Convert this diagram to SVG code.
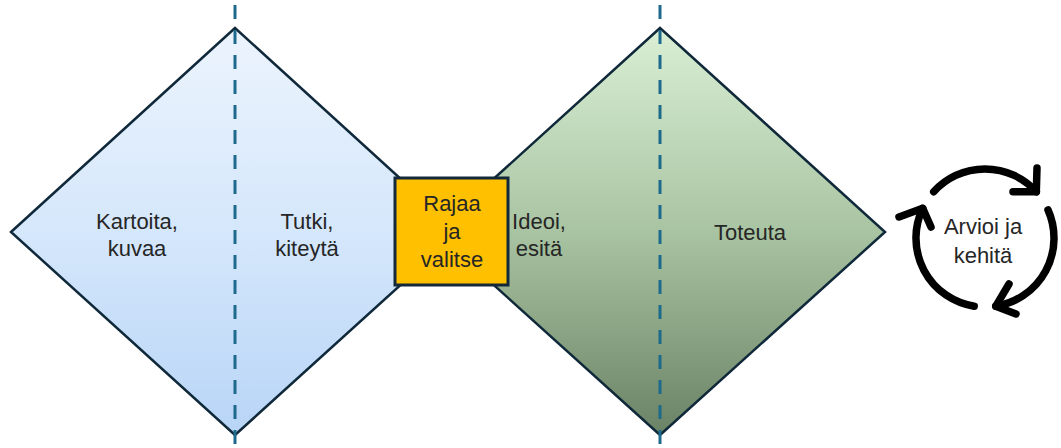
<svg xmlns="http://www.w3.org/2000/svg" width="1061" height="448" viewBox="0 0 1061 448">
  <defs>
    <linearGradient id="gBlue" x1="0" y1="0" x2="0" y2="1">
      <stop offset="0" stop-color="#ecf4fd"/>
      <stop offset="0.5" stop-color="#d5e7fb"/>
      <stop offset="1" stop-color="#b8d5f7"/>
    </linearGradient>
    <linearGradient id="gGreen" x1="0" y1="0" x2="0" y2="1">
      <stop offset="0" stop-color="#daefd5"/>
      <stop offset="0.5" stop-color="#a9c4a2"/>
      <stop offset="1" stop-color="#6a8265"/>
    </linearGradient>
    <style>
      .dia { stroke: #10293a; stroke-width: 2.5; stroke-linejoin: miter; }
      .dash { stroke: #1e6a8c; stroke-width: 3; stroke-dasharray: 14 11; stroke-dashoffset: 20; fill: none; }
      .lbl { font-family: "Liberation Sans", Arial, sans-serif; font-size: 22px; fill: #262626; text-anchor: middle; }
      .cyc { fill: none; stroke: #000; stroke-width: 7.5; stroke-linecap: round; stroke-linejoin: round; }
    </style>
  </defs>

  <g id="diamond-discover">
    <polygon class="dia" fill="url(#gBlue)" points="11,232 235,28 459,232 235,435"/>
  </g>
  <g id="diamond-deliver">
    <polygon class="dia" fill="url(#gGreen)" points="435,232 660,28 885,232 660,435"/>
  </g>

  <g id="connectors">
    <line class="dash" x1="235" y1="0" x2="235" y2="448"/>
    <line class="dash" x1="660" y1="0" x2="660" y2="448"/>
  </g>

  <g id="node-rajaa">
    <rect x="395" y="178" width="113" height="107" fill="#ffc000" stroke="#13293a" stroke-width="3"/>
    <text class="lbl" x="452" y="211">Rajaa</text>
    <text class="lbl" x="452" y="239">ja</text>
    <text class="lbl" x="452" y="267">valitse</text>
  </g>

  <g id="label-kartoita">
    <text class="lbl" x="137" y="229">Kartoita,</text>
    <text class="lbl" x="137" y="256">kuvaa</text>
  </g>
  <g id="label-tutki">
    <text class="lbl" x="307" y="229">Tutki,</text>
    <text class="lbl" x="307" y="256">kiteytä</text>
  </g>
  <g id="label-ideoi">
    <text class="lbl" x="539" y="229">Ideoi,</text>
    <text class="lbl" x="539" y="256">esitä</text>
  </g>
  <g id="label-toteuta">
    <text class="lbl" x="750" y="240">Toteuta</text>
  </g>

  <g id="node-arvioi">
    <path class="cyc" d="M933.7,191.8 A69,69 0 0 1 1036.3,191.8"/>
    <polyline class="cyc" points="1037,168 1036.3,191.8 1013,191.8"/>
    <path class="cyc" d="M1048,209.9 A69,69 0 0 1 995.8,306.2"/>
    <polyline class="cyc" points="1009,284 995.8,306.2 1016,314"/>
    <path class="cyc" d="M974.2,306.2 A69,69 0 0 1 922.7,208.3"/>
    <polyline class="cyc" points="931,227 922.7,208.3 899,217"/>
    <text class="lbl" x="983" y="234">Arvioi ja</text>
    <text class="lbl" x="983" y="263">kehitä</text>
  </g>
</svg>
